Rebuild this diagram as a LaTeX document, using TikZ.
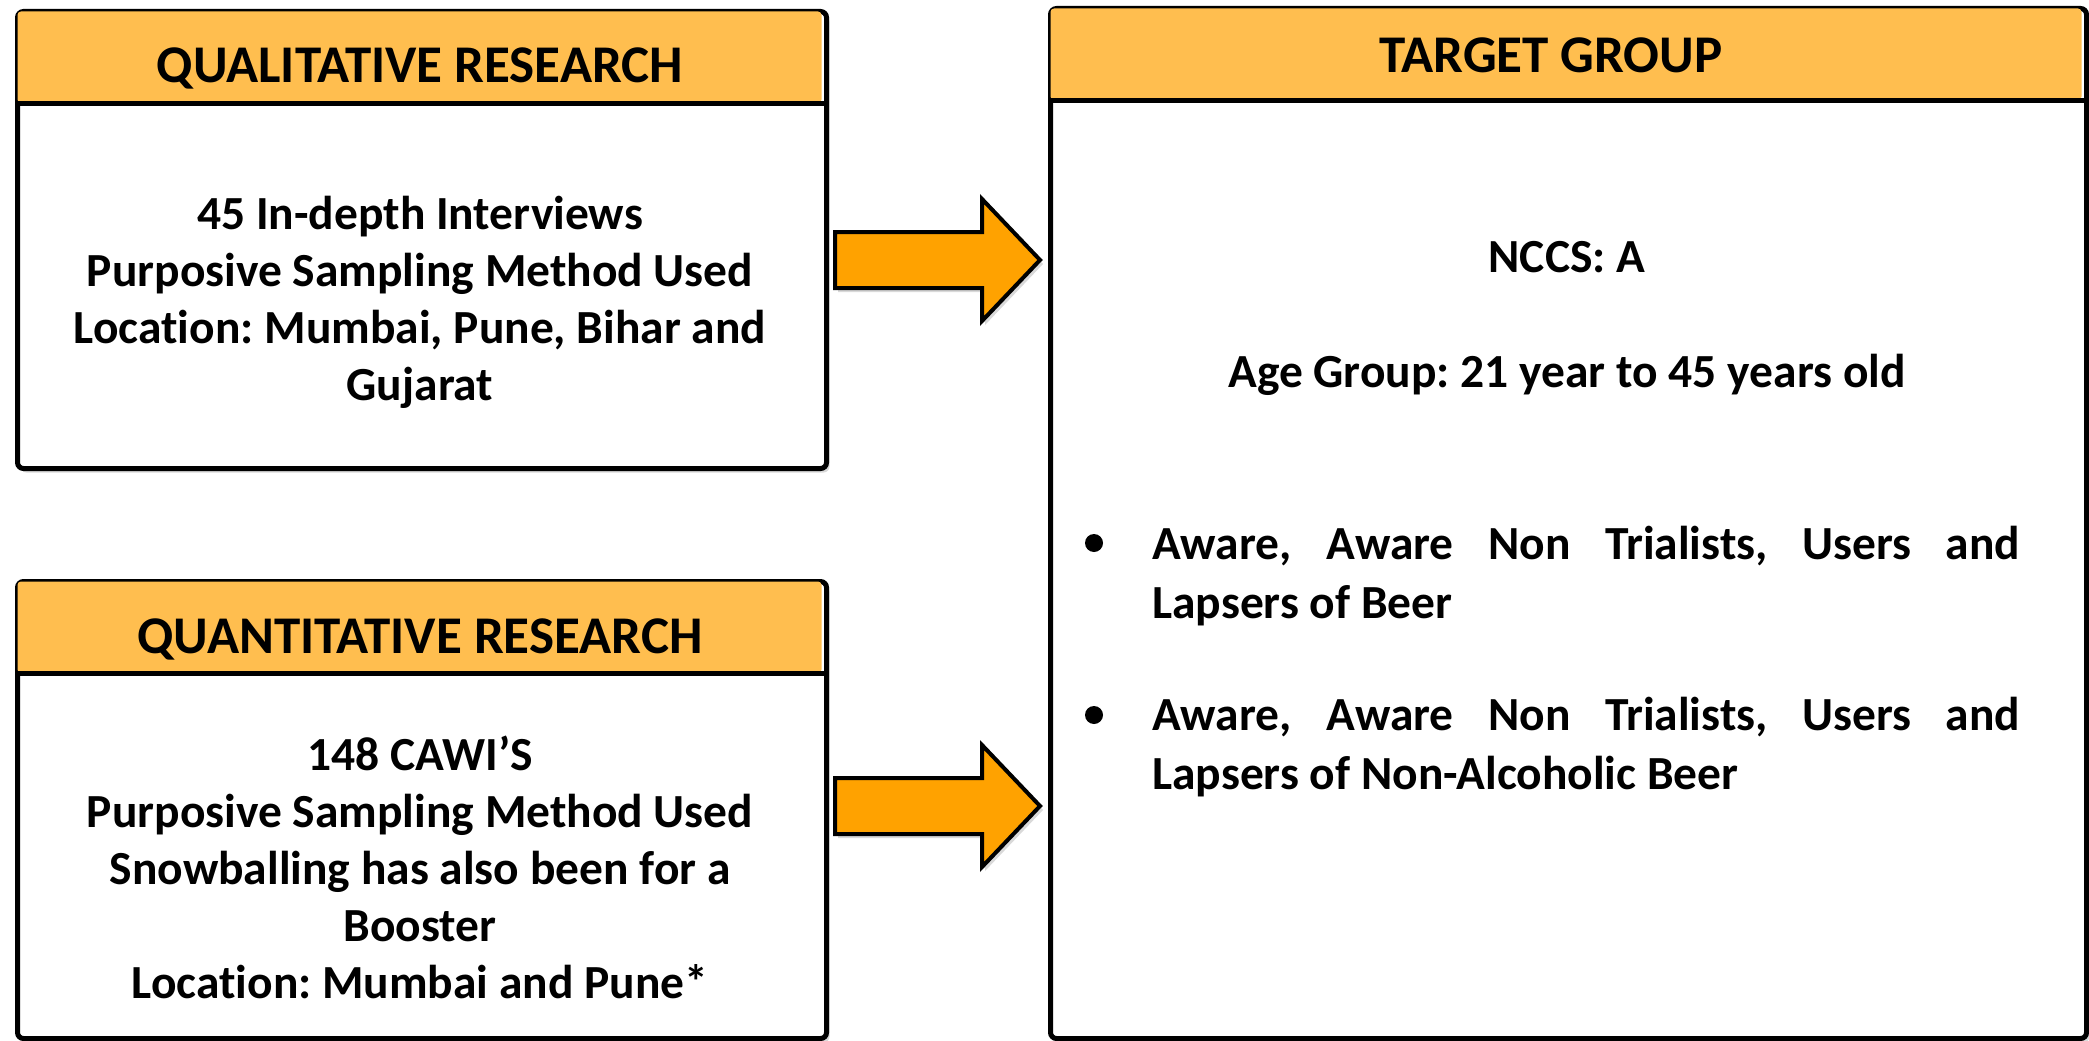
\documentclass[tikz,border=0pt]{standalone}
\usepackage{fontspec}
\setmainfont[Ligatures=NoCommon]{Carlito}
\frenchspacing
\usetikzlibrary{shadows}
\definecolor{hdr}{HTML}{FFBE4F}
\definecolor{arroworange}{HTML}{FFA200}
\begin{document}
\begin{tikzpicture}[x=1pt,y=-1pt,
  panel/.style={draw=black, line width=5pt, rounded corners=6pt, fill=white, inner sep=0pt, anchor=north west,
    drop shadow={shadow xshift=3pt, shadow yshift=-4pt, opacity=0.3}},
  hdrfill/.style={fill=hdr, rounded corners=3.5pt},
  sepline/.style={line width=5pt},
  hdrtext/.style={font=\fontsize{53}{60}\selectfont\bfseries\frenchspacing, anchor=base, inner sep=0pt},
  bodytext/.style={font=\fontsize{47.5}{57}\selectfont\bfseries\frenchspacing, anchor=base, inner sep=0pt},
  bullettext/.style={font=\fontsize{47.5}{59}\selectfont\bfseries\frenchspacing, anchor=base west, inner sep=0pt, align=left},
  bulletdot/.style={circle, fill=black, inner sep=0pt, minimum size=18pt},
  blockarrow/.style={draw=black, line width=4pt, miter limit=4, fill=arroworange,
    drop shadow={shadow xshift=3pt, shadow yshift=-4pt, opacity=0.3}},
]
\path[use as bounding box] (0,0) rectangle (2089,1041);

% Qualitative research panel
\node[panel, minimum width=809pt, minimum height=457pt] (qual) at (15,9) {};
\fill[hdrfill] (17.5,11.5) rectangle (821.5,103);
\draw[sepline] (qual.west |- 0,103) -- (qual.east |- 0,103);
\node[hdrtext] (qualt) at (420,83) {QUALITATIVE RESEARCH};
\node[bodytext, align=center] (qualb) at (420,400) {45 In-depth Interviews\\Purposive Sampling Method Used\\Location: Mumbai, Pune, Bihar and\\Gujarat};

% Quantitative research panel
\node[panel, minimum width=809pt, minimum height=457pt] (quant) at (15,579) {};
\fill[hdrfill] (17.5,581.5) rectangle (821.5,673);
\draw[sepline] (quant.west |- 0,673) -- (quant.east |- 0,673);
\node[hdrtext] (quantt) at (420,653) {QUANTITATIVE RESEARCH};
\node[bodytext, align=center] (quantb) at (420,998) {148 CAWI’S\\Purposive Sampling Method Used\\Snowballing has also been for a\\Booster\\Location: Mumbai and Pune*};

% Target group panel
\node[panel, minimum width=1036pt, minimum height=1030pt] (target) at (1048,6) {};
\fill[hdrfill] (1050.5,8.5) rectangle (2081.5,100);
\draw[sepline] (target.west |- 0,100) -- (target.east |- 0,100);
\node[hdrtext] (targett) at (1551,73) {TARGET GROUP};
\node[bodytext] (nccs) at (1567,272) {NCCS: A};
\node[bodytext] (age) at (1567,387) {Age Group: 21 year to 45 years old};
\node[bulletdot] (dot1) at (1094,543) {};
\node[bullettext] (bul1) at (1152,618) {\makebox[868pt][s]{Aware, Aware Non Trialists, Users and}\\Lapsers of Beer};
\node[bulletdot] (dot2) at (1094,715) {};
\node[bullettext] (bul2) at (1152,789) {\makebox[868pt][s]{Aware, Aware Non Trialists, Users and}\\Lapsers of Non-Alcoholic Beer};

% Block arrows
\coordinate (a1) at (835,260);
\draw[blockarrow] (a1) ++(0,-28) -- ++(147,0) -- ++(0,-33) -- ++(58,61) -- ++(-58,61) -- ++(0,-33) -- ++(-147,0) -- cycle;
\coordinate (a2) at (835,806);
\draw[blockarrow] (a2) ++(0,-28) -- ++(147,0) -- ++(0,-33) -- ++(58,61) -- ++(-58,61) -- ++(0,-33) -- ++(-147,0) -- cycle;
\end{tikzpicture}
\end{document}
